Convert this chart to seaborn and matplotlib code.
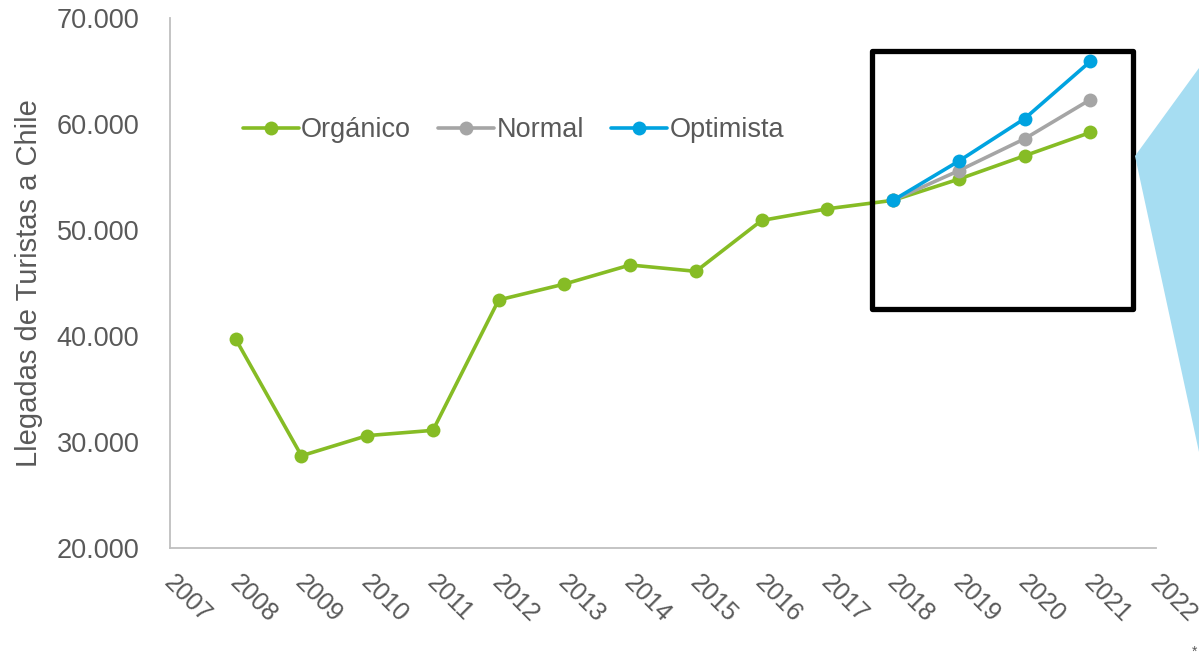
import matplotlib
matplotlib.use("Agg")
import matplotlib.pyplot as plt
import seaborn as sns
import pandas as pd
from matplotlib.patches import Rectangle, Polygon
from matplotlib.ticker import FuncFormatter
from matplotlib.transforms import ScaledTranslation

# ---- data ----
years_org = [2008, 2009, 2010, 2011, 2012, 2013, 2014, 2015, 2016, 2017, 2018, 2019, 2020, 2021]
organico = [39700, 28700, 30600, 31100, 43400, 44900, 46700, 46100, 50900, 52000, 52800, 54800, 57000, 59200]
years_proj = [2018, 2019, 2020, 2021]
normal = [52800, 55600, 58600, 62300]
optimista = [52800, 56500, 60500, 65900]
x_ticks = list(range(2007, 2023))
y_ticks = [20000, 30000, 40000, 50000, 60000, 70000]
y_label = "Llegadas de Turistas a Chile"
series_names = ["Orgánico", "Normal", "Optimista"]

GREEN = "#86BC25"
GRAY = "#A5A5A5"
BLUE = "#00A3E0"
TXT = "#595959"

sns.set_theme(style="white")
plt.rcParams["font.family"] = ["Liberation Sans", "DejaVu Sans"]

fig = plt.figure(figsize=(11.99, 6.58), dpi=100)
ax = fig.add_axes([170/1199, 1-548/658, (1156-170)/1199, (548-18)/658])

df_o = pd.DataFrame({"x": years_org, "y": organico})
df_n = pd.DataFrame({"x": years_proj, "y": normal})
df_p = pd.DataFrame({"x": years_proj, "y": optimista})

kw = dict(marker="o", markersize=10, markeredgewidth=0, linewidth=2.6, ax=ax)
sns.lineplot(data=df_o, x="x", y="y", color=GREEN, label=series_names[0], **kw)
sns.lineplot(data=df_n, x="x", y="y", color=GRAY, label=series_names[1], **kw)
sns.lineplot(data=df_p, x="x", y="y", color=BLUE, label=series_names[2], **kw)

ax.set_xlim(2007, 2022)
ax.set_ylim(20000, 70000)
ax.set_xticks(x_ticks)
ax.set_xticklabels([str(v) for v in x_ticks], rotation=-45, ha="left", va="top",
                   rotation_mode="anchor", fontsize=18, color=TXT)
ax.set_yticks(y_ticks)
ax.yaxis.set_major_formatter(FuncFormatter(lambda v, p: f"{int(v):,}".replace(",", ".")))
ax.tick_params(axis="y", labelsize=19.5, labelcolor=TXT, length=0, pad=22)
ax.tick_params(axis="x", length=0, pad=16)
ax.set_xlabel("")
ax.set_ylabel(y_label, fontsize=21, color=TXT, labelpad=10)

offset = ScaledTranslation(6/100, 0, fig.dpi_scale_trans)
for lbl in ax.get_xticklabels():
    lbl.set_transform(lbl.get_transform() + offset)

for s in ["top", "right"]:
    ax.spines[s].set_visible(False)
for s in ["left", "bottom"]:
    ax.spines[s].set_color("#BFBFBF")
    ax.spines[s].set_linewidth(1.3)

leg = ax.legend(loc="center left", bbox_to_anchor=(243/1199, 1-130/658),
                bbox_transform=fig.transFigure, ncol=3, frameon=False,
                fontsize=19.5, handlelength=2.05, handletextpad=0.1,
                columnspacing=1.0, borderpad=0, borderaxespad=0)
for t in leg.get_texts():
    t.set_color(TXT)

# highlight box
rect = Rectangle((2017.68, 42550), 2021.65-2017.68, 66930-42550, fill=False,
                 edgecolor="black", linewidth=3.8, clip_on=False, zorder=5,
                 joinstyle="round")
ax.add_patch(rect)

# light blue zoom wedge (figure coords)
poly = Polygon([(1135/1199, 1-156/658), (1.0, 1-68/658), (1.0, 1-452/658)],
               closed=True, transform=fig.transFigure, facecolor="#A6DDF2",
               edgecolor="none", zorder=0)
fig.patches.append(poly)

fig.text(1195/1199, 1-652/658, "*", fontsize=10, color=TXT, ha="center", va="center")

fig.savefig("out.png", dpi=100)
